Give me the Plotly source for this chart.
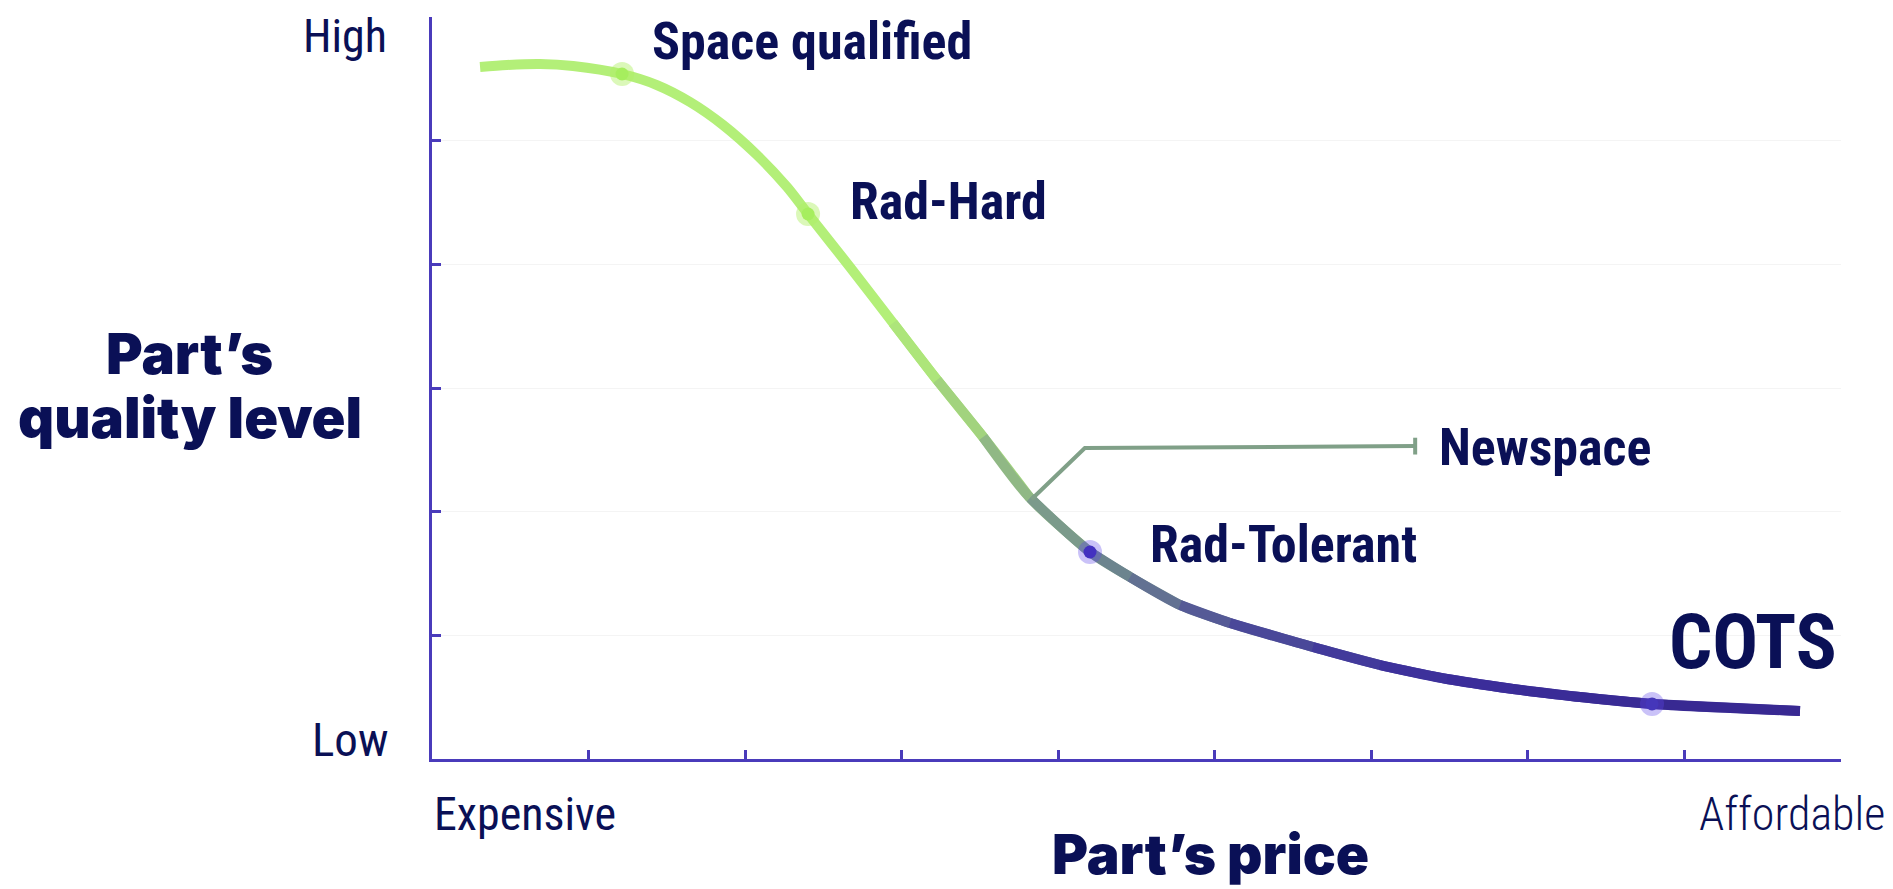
import plotly.graph_objects as go
from plotly.colors import sample_colorscale

# ---------------- data ----------------
price = [0.307, 0.479, 0.690, 0.901, 1.214, 1.437, 1.648, 1.859, 2.076, 2.268,
         2.402, 2.670, 2.945, 3.226, 3.520, 3.820, 4.203, 4.459, 4.778, 5.097,
         5.627, 6.055, 6.483, 6.905, 7.333, 7.793, 8.738]
quality = [5.596, 5.612, 5.620, 5.604, 5.539, 5.450, 5.313, 5.127, 4.884, 4.625,
           4.407, 3.978, 3.526, 3.065, 2.604, 2.111, 1.674, 1.472, 1.245, 1.100,
           0.906, 0.760, 0.647, 0.566, 0.501, 0.445, 0.388]

classes = ["Space qualified", "Rad-Hard", "Rad-Tolerant", "COTS"]
class_price = [1.214, 2.402, 4.203, 7.793]
class_quality = [5.539, 4.407, 1.674, 0.445]

newspace_label = "Newspace"
newspace_price = [3.830, 4.170, 6.280]
newspace_quality = [2.100, 2.515, 2.530]

y_tick_labels = ["Low", "High"]
x_tick_labels = ["Expensive", "Affordable"]
x_title = "Part\u2019s price"
y_title = ["Part\u2019s", "quality level"]

# ---------------- style ----------------
W, H = 1893, 889
OFF = 8  # default body margin of the page
FW, FH = W - OFF, H - OFF
X0, X1, Y0, Y1 = 432, 1841, 17, 759  # plot area in page pixels
ML, MT = X0 - OFF, Y0 - OFF
MR, MB = FW - (X1 - OFF), FH - (Y1 - OFF)
PW, PH = X1 - X0, Y1 - Y0
AXIS = "#4a3bbb"
TEXT = "#0a1056"
NARROW = "Roboto Condensed, Roboto, sans-serif"
HEAVY = "Inter, Roboto, sans-serif"
GREEN = "#b3ef78"
GRADIENT = [
    [0.0, GREEN], [2.9 / 9, "#b2ec78"], [3.25 / 9, "#a9de7b"],
    [3.55 / 9, "#98c482"], [3.85 / 9, "#85a78a"], [4.2 / 9, "#708b8d"],
    [4.5 / 9, "#667a90"], [4.8 / 9, "#5b6494"], [5.1 / 9, "#4f4f98"],
    [5.65 / 9, "#45409b"], [6.1 / 9, "#3e339b"], [6.6 / 9, "#3b2d9a"],
    [1.0, "#37278e"],
]
GREEN_UNTIL = 2.95  # curve is plain green up to this price position


def px(xpix):
    return (xpix - X0) / PW


def py(ypix):
    return (Y1 - ypix) / PH


fig = go.Figure()

n = len(price)
k = max(i for i in range(n) if price[i] <= GREEN_UNTIL)
# plain green, smooth part of the curve (one point further for a smooth joint)
fig.add_trace(go.Scatter(
    x=price[:k + 2], y=quality[:k + 2], mode="lines",
    line=dict(color=GREEN, width=10, shape="spline", smoothing=0.8),
    hoverinfo="skip", showlegend=False))
# gradient part: one short spline trace per segment (overlapping one point
# ahead, later ones drawn on top)
mids = [(price[i] + price[i + 1]) / 2 / 9 for i in range(n - 1)]
seg_colors = sample_colorscale(GRADIENT, mids)
for i in range(k, n - 1):
    j = min(i + 3, n)
    fig.add_trace(go.Scatter(
        x=price[i:j], y=quality[i:j], mode="lines",
        line=dict(color=seg_colors[i], width=10, shape="spline", smoothing=0.8),
        hoverinfo="skip", showlegend=False))

fig.add_trace(go.Scatter(
    x=newspace_price, y=newspace_quality, mode="lines",
    line=dict(color="#80a088", width=4), hoverinfo="skip", showlegend=False))
fig.add_trace(go.Scatter(
    x=newspace_price[-1:], y=newspace_quality[-1:], mode="markers",
    marker=dict(symbol="line-ns", size=12, line=dict(color="#80a088", width=4)),
    hoverinfo="skip", showlegend=False))

glow_cols = ["rgba(175,240,100,0.45)", "rgba(175,240,100,0.45)",
             "rgba(95,70,235,0.33)", "rgba(95,70,235,0.33)"]
dot_cols = ["#a6ee5e", "#a6ee5e", "#4331c0", "#4536ba"]
fig.add_trace(go.Scatter(
    x=class_price, y=class_quality, mode="markers",
    marker=dict(size=24, color=glow_cols, line=dict(width=0)),
    hoverinfo="skip", showlegend=False))
fig.add_trace(go.Scatter(
    x=class_price, y=class_quality, mode="markers",
    marker=dict(size=13, color=dot_cols, line=dict(width=0)),
    text=classes, hoverinfo="text", showlegend=False))

annotations = []


def add_text(text, xpix, ypix, size, anchor, family=NARROW, weight="bold"):
    annotations.append(dict(
        text=text, x=px(xpix), y=py(ypix), xref="paper", yref="paper",
        xanchor=anchor, yanchor="middle", showarrow=False,
        font=dict(family=family, size=size, color=TEXT, weight=weight)))


# class labels
add_text(classes[0], 650, 42, 52, "left")
add_text(classes[1], 848, 202, 52, "left")
add_text(newspace_label, 1437, 447, 52, "left")
add_text(classes[2], 1148, 544, 52, "left")
add_text(classes[3], 1667, 642, 76, "left")

# axis end labels
add_text(y_tick_labels[1], 389, 36, 46, "right", weight="normal")
add_text(y_tick_labels[0], 391, 739, 47, "right", weight="normal")
add_text(x_tick_labels[0], 432, 814, 46, "left", weight="normal")
add_text(x_tick_labels[1], 1887, 814, 46, "right", weight=300)

# axis titles
add_text(y_title[0], 190, 354, 56, "center", family=HEAVY, weight=900)
add_text(y_title[1], 190, 418, 56, "center", family=HEAVY, weight=900)
add_text(x_title, 1210, 854, 55, "center", family=HEAVY, weight=900)

fig.update_layout(
    width=FW, height=FH,
    margin=dict(l=ML, r=MR, t=MT, b=MB, pad=0),
    paper_bgcolor="white", plot_bgcolor="white",
    showlegend=False,
    annotations=annotations,
    xaxis=dict(range=[0, 9], tickvals=list(range(1, 10)), showticklabels=False,
               ticks="inside", ticklen=9, tickwidth=3, tickcolor=AXIS,
               showline=True, linecolor=AXIS, linewidth=3,
               showgrid=False, zeroline=False, fixedrange=True),
    yaxis=dict(range=[0, 6], tickvals=list(range(1, 7)), showticklabels=False,
               ticks="inside", ticklen=9, tickwidth=3, tickcolor=AXIS,
               showline=True, linecolor=AXIS, linewidth=3,
               showgrid=True, gridcolor="#f4f4f4", gridwidth=1,
               zeroline=False, fixedrange=True),
)

fig.write_html("out.html")
